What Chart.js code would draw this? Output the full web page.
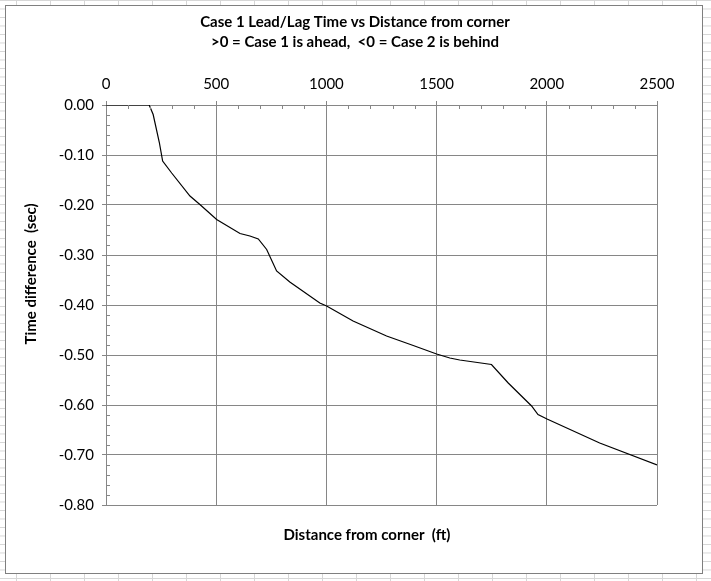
<!DOCTYPE html>
<html>
<head>
<meta charset="utf-8">
<script src="https://cdn.jsdelivr.net/npm/chart.js@4.4.0/dist/chart.umd.min.js"></script>
<style>
  body {
    margin: 0; width: 711px; height: 581px; overflow: hidden;
    background-color: #fff;
    background-image: linear-gradient(to right, #d6d6d6 1px, transparent 1px),
                      linear-gradient(to bottom, #d6d6d6 1px, transparent 1px);
    background-size: 34px 8.5px;
    background-position: 16px 0;
  }
  #box { position: absolute; left: 5px; top: 5px; width: 696px; height: 567px;
         border: 1px solid #7f7f7f; background: #fff; }
</style>
</head>
<body>
<div id="box"><canvas id="chart-lag" width="696" height="567"></canvas></div>
<script>
// distance from corner (ft) and time difference (sec)
var distFt = [0, 196, 214, 242, 257, 298, 381, 426, 502, 608, 653, 691, 729, 774, 834,
              970, 1001, 1121, 1273, 1394, 1500, 1560, 1605, 1749, 1825, 1931, 1960, 2001, 2240, 2500];
var timeDiff = [0, 0, -0.019, -0.075, -0.112, -0.136, -0.182, -0.199, -0.229, -0.257, -0.262, -0.268, -0.289, -0.332, -0.354,
                -0.396, -0.402, -0.432, -0.462, -0.481, -0.498, -0.506, -0.510, -0.519, -0.556, -0.602, -0.619, -0.628, -0.676, -0.720];

var titleLines = ['Case 1 Lead/Lag Time vs Distance from corner', '>0 = Case 1 is ahead,  <0 = Case 2 is behind'];
var xTitle = 'Distance from corner  (ft)';
var yTitle = 'Time difference  (sec)';

var xRange = [0, 2500];
var yRange = [-0.8, 0];

var points = distFt.map(function (d, i) { return { x: d, y: timeDiff[i] }; });

var gridColor = '#868686';

// excel style minor tick marks, chart title and axis titles
var extras = {
  id: 'extras',
  afterDraw: function (chart) {
    var ctx = chart.ctx;
    var xs = chart.scales.x, ys = chart.scales.y;
    var area = chart.chartArea;
    ctx.save();
    ctx.strokeStyle = gridColor;
    ctx.lineWidth = 1;
    ctx.beginPath();
    for (var v = 100; v < 2500; v += 100) {
      if (v % 500 === 0) continue;
      var px = Math.round(xs.getPixelForValue(v)) + 0.5;
      ctx.moveTo(px, area.top);
      ctx.lineTo(px, area.top + 4);
    }
    for (var k = 1; k < 40; k++) {
      if (k % 5 === 0) continue;
      var py = Math.round(ys.getPixelForValue(-k * 0.02)) + 0.5;
      ctx.moveTo(area.left, py);
      ctx.lineTo(area.left + 4, py);
    }
    ctx.stroke();

    ctx.fillStyle = '#000';
    ctx.font = 'bold 15px Lato';
    ctx.textAlign = 'center';
    ctx.textBaseline = 'middle';
    ctx.fillText(titleLines[0], 349, 16);
    ctx.fillText(titleLines[1], 349, 36);
    ctx.fillText(xTitle, 361, 529);
    ctx.translate(25, 268);
    ctx.rotate(-Math.PI / 2);
    ctx.fillText(yTitle, 0, 0);
    ctx.restore();
  }
};

var ctx = document.getElementById('chart-lag');
new Chart(ctx, {
  type: 'scatter',
  data: {
    datasets: [{
      label: 'Time difference',
      data: points,
      showLine: true,
      borderColor: '#000',
      borderWidth: 1.2,
      pointRadius: 0,
      tension: 0
    }]
  },
  options: {
    responsive: false,
    animation: false,
    layout: { padding: { left: 0, right: 45, top: 46, bottom: 68 } },
    plugins: {
      legend: { display: false },
      tooltip: { enabled: false },
      title: { display: false }
    },
    scales: {
      x: {
        type: 'linear',
        position: 'top',
        min: xRange[0],
        max: xRange[1],
        ticks: { stepSize: 500, color: '#000', padding: 8, maxRotation: 0,
                 font: { family: 'Lato', size: 15 },
                 callback: function (v) { return String(v); } },
        grid: { color: gridColor, tickLength: 4, tickColor: gridColor },
        border: { color: gridColor },
        afterFit: function (scale) { scale.height = 53; }
      },
      y: {
        type: 'linear',
        min: yRange[0],
        max: yRange[1],
        ticks: { stepSize: 0.1, color: '#000', padding: 8,
                 font: { family: 'Lato', size: 15 },
                 callback: function (v) { return v.toFixed(2); } },
        grid: { color: gridColor, tickLength: 4, tickColor: gridColor },
        border: { color: gridColor },
        afterFit: function (scale) { scale.width = 100; }
      }
    }
  },
  plugins: [extras]
});
</script>
</body>
</html>
